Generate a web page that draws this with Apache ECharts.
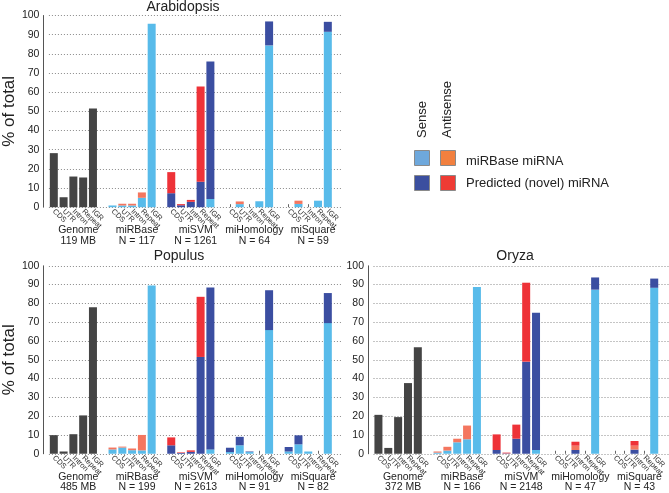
<!DOCTYPE html>
<html>
<head>
<meta charset="utf-8">
<script src="https://cdn.jsdelivr.net/npm/echarts@6/dist/echarts.min.js"></script>
<style>
  html, body { margin: 0; padding: 0; background: #fff; }
  #chart { width: 669px; height: 493px; }
</style>
</head>
<body>
<div id="chart"></div>
<script>
// regions and methods
var parts = ['CDS', 'UTR', 'Intron', 'Repeat', 'IGR'];
var methods = ['Genome', 'miRBase', 'miSVM', 'miHomology', 'miSquare'];
var yTicks = [0, 10, 20, 30, 40, 50, 60, 70, 80, 90, 100];

// Arabidopsis
var araSizes = ['119 MB', 'N = 117', 'N = 1261', 'N = 64', 'N = 59'];
var araGenome = [28.2, 5.2, 16, 15.5, 51.5];
// segments per method: miRBase, miSVM, miHomology, miSquare (5 regions each)
var araSenseKnown = [0.9, 0.9, 0.9, 4.9, 95.7,  0, 0, 0, 0, 4.3,  0, 1.6, 0, 3.1, 84.4,  0, 1.7, 0, 3.4, 91.5];
var araSenseNovel = [0, 0, 0, 0, 0,  7.3, 1.0, 2.8, 13.3, 71.7,  0, 0, 0, 0, 12.5,  0, 0, 0, 0, 5.2];
var araAntiKnown  = [0, 0.9, 0.9, 2.8, 0,  0, 0, 0, 0, 0,  0, 1.4, 0, 0, 0,  0, 1.7, 0, 0, 0];
var araAntiNovel  = [0, 0, 0, 0, 0,  11, 0.6, 1.0, 49.7, 0,  0, 0, 0, 0, 0,  0, 0, 0, 0, 0];

// Populus
var popSizes = ['485 MB', 'N = 199', 'N = 2613', 'N = 91', 'N = 82'];
var popGenome = [9.9, 1.2, 10.4, 20.4, 77.9];
var popSenseKnown = [2.3, 3.3, 1.9, 1.8, 89.5,  0, 0, 0, 0, 2.3,  0.9, 4.5, 0.9, 0, 65.8,  1.2, 5.0, 1.2, 0, 69.5];
var popSenseNovel = [0, 0, 0, 0, 0,  4.5, 0.4, 1.0, 51.5, 86.2,  2.3, 4.5, 0.3, 0, 21.2,  2.4, 4.8, 0, 0, 16];
var popAntiKnown  = [1.0, 0.5, 0.9, 8.2, 0,  0, 0, 0, 0, 0,  0, 0, 0, 0, 0,  0, 0, 0, 0, 0];
var popAntiNovel  = [0, 0, 0, 0, 0,  4.2, 0.3, 0.8, 32, 0,  0, 0, 0, 0, 0,  0, 0, 0, 0, 0];

// Oryza
var orySizes = ['372 MB', 'N = 166', 'N = 2148', 'N = 47', 'N = 43'];
var oryGenome = [20.7, 3.1, 19.5, 37.6, 56.6];
var orySenseKnown = [0.6, 1.7, 6.1, 7.7, 88.7,  0, 0, 0, 0, 2.0,  0, 0, 0, 0, 87.3,  0, 0, 0, 0, 88.3];
var orySenseNovel = [0, 0, 0, 0, 0,  2.0, 0.2, 8.0, 49, 73,  0, 0, 2.0, 0, 6.5,  0, 0, 2.2, 0, 4.9];
var oryAntiKnown  = [0.6, 2.0, 1.9, 7.3, 0,  0, 0, 0, 0, 0,  0, 0, 2.3, 0, 0,  0, 0, 2.1, 0, 0];
var oryAntiNovel  = [0, 0, 0, 0, 0,  8.3, 0.4, 7.5, 42, 0,  0, 0, 2.1, 0, 0,  0, 0, 2.5, 0, 0];

var colGenome = '#444444';
var colSenseKnown = '#58bbea';
var colSenseNovel = '#3b4ea1';
var colAntiKnown = '#f4765f';
var colAntiNovel = '#ee3238';
var font = 'Liberation Sans, Arial, sans-serif';

// 6 slots per method: 5 regions + a gap
var slots = [];
for (var g = 0; g < methods.length; g++) {
    for (var c = 0; c < 6; c++) slots.push(g + '|' + c);
}

function genomeData(arr) {
    return slots.map(function (s, i) {
        var g = Math.floor(i / 6), c = i % 6;
        return (g === 0 && c < 5) ? arr[c] : null;
    });
}
function methodData(arr) {
    return slots.map(function (s, i) {
        var g = Math.floor(i / 6), c = i % 6;
        return (g === 0 || c === 5) ? null : arr[(g - 1) * 5 + c];
    });
}
// small marker where a method found nothing
function zeroTick(a, b, c2, d) {
    return function (idx) {
        var g = Math.floor(idx / 6), c = idx % 6;
        if (g === 0 || c === 5) return false;
        var k = (g - 1) * 5 + c;
        return a[k] + b[k] + c2[k] + d[k] === 0;
    };
}

var grids = [
    { left: 42.5, top: 15.5, width: 300, height: 191.7 },
    { left: 42.5, top: 265.8, width: 300, height: 191.5 },
    { left: 373.5, top: 265.8, width: 300, height: 191.5 }
];
var panels = [
    { title: 'Arabidopsis', tx: 183, ty: 0, name: '% of total', sizes: araSizes, genome: araGenome, sk: araSenseKnown, sn: araSenseNovel, ak: araAntiKnown, an: araAntiNovel },
    { title: 'Populus', tx: 179, ty: 249, name: '% of total', sizes: popSizes, genome: popGenome, sk: popSenseKnown, sn: popSenseNovel, ak: popAntiKnown, an: popAntiNovel },
    { title: 'Oryza', tx: 515, ty: 249, name: '', sizes: orySizes, genome: oryGenome, sk: orySenseKnown, sn: orySenseNovel, ak: oryAntiKnown, an: oryAntiNovel }
];

var xAxes = [], yAxes = [], series = [], titles = [];
panels.forEach(function (p, i) {
    titles.push({
        text: p.title, left: p.tx, top: p.ty, textAlign: 'center', padding: 0,
        textStyle: { fontFamily: font, fontSize: 14, fontWeight: 'normal', color: '#222' }
    });
    xAxes.push({
        type: 'category', gridIndex: i, data: slots,
        axisLine: { show: false },
        axisTick: { show: true, inside: true, length: 3, alignWithLabel: true,
            interval: zeroTick(p.sk, p.sn, p.ak, p.an),
            lineStyle: { color: '#666', width: 1 } },
        axisLabel: {
            interval: 0, rotate: -45, margin: 3, fontSize: 7.5, fontFamily: font, color: '#333',
            formatter: function (v) { var c = +v.split('|')[1]; return parts[c] || ''; }
        },
        splitLine: { show: false }
    });
    xAxes.push({
        type: 'category', gridIndex: i, position: 'bottom', offset: 16,
        data: methods.map(function (m, k) { return m + '\n' + p.sizes[k]; }),
        axisLine: { show: false }, axisTick: { show: false },
        axisLabel: { interval: 0, margin: 2, fontSize: 10.5, lineHeight: 10.5, fontFamily: font, color: '#222' },
        splitLine: { show: false }
    });
    yAxes.push({
        type: 'value', gridIndex: i, min: yTicks[0], max: yTicks[yTicks.length - 1], interval: 10,
        offset: 5.5,
        name: p.name, nameLocation: 'middle', nameGap: 18,
        nameTextStyle: { fontFamily: font, fontSize: 17, color: '#222' },
        axisLine: { show: true, lineStyle: { color: '#555', width: 1 } },
        axisTick: { show: false },
        axisLabel: { margin: 4, fontSize: 10.5, fontFamily: font, color: '#222' },
        splitLine: { show: true, lineStyle: { color: '#8a8a8a', type: [1, 2], width: 1 } }
    });
    var xi = i * 2;
    var common = { type: 'bar', stack: 'p' + i, xAxisIndex: xi, yAxisIndex: i, barWidth: 8, silent: true };
    series.push(Object.assign({ name: 'Genome', data: genomeData(p.genome), itemStyle: { color: colGenome } }, common));
    series.push(Object.assign({ name: 'Sense miRBase', data: methodData(p.sk), itemStyle: { color: colSenseKnown } }, common));
    series.push(Object.assign({ name: 'Sense predicted', data: methodData(p.sn), itemStyle: { color: colSenseNovel } }, common));
    series.push(Object.assign({ name: 'Antisense miRBase', data: methodData(p.ak), itemStyle: { color: colAntiKnown } }, common));
    series.push(Object.assign({ name: 'Antisense predicted', data: methodData(p.an), itemStyle: { color: colAntiNovel } }, common));
});

// legend laid out as a small matrix: sense / antisense columns
var legendText = { fontFamily: font, fontSize: 13, fill: '#222' };
var graphic = [
    { type: 'text', x: 422, y: 138, rotation: Math.PI / 2,
      style: Object.assign({ text: 'Sense', align: 'left', verticalAlign: 'middle' }, legendText) },
    { type: 'text', x: 447, y: 138, rotation: Math.PI / 2,
      style: Object.assign({ text: 'Antisense', align: 'left', verticalAlign: 'middle' }, legendText) },
    { type: 'rect', shape: { x: 414.5, y: 150.5, width: 15, height: 15 }, style: { fill: '#6ea8dc', stroke: '#8a8a8a', lineWidth: 1 } },
    { type: 'rect', shape: { x: 440.5, y: 150.5, width: 15, height: 15 }, style: { fill: '#f2803f', stroke: '#8a8a8a', lineWidth: 1 } },
    { type: 'rect', shape: { x: 414.5, y: 175.5, width: 15, height: 15 }, style: { fill: '#3b4f9f', stroke: '#8a8a8a', lineWidth: 1 } },
    { type: 'rect', shape: { x: 440.5, y: 175.5, width: 15, height: 15 }, style: { fill: '#ee3b34', stroke: '#8a8a8a', lineWidth: 1 } },
    { type: 'text', x: 466, y: 161, style: Object.assign({ text: 'miRBase miRNA', align: 'left', verticalAlign: 'middle' }, legendText) },
    { type: 'text', x: 466, y: 183, style: Object.assign({ text: 'Predicted (novel) miRNA', align: 'left', verticalAlign: 'middle' }, legendText) }
];

var chart = echarts.init(document.getElementById('chart'), null, { renderer: 'canvas' });
chart.setOption({
    animation: false,
    backgroundColor: '#fff',
    title: titles,
    grid: grids,
    xAxis: xAxes,
    yAxis: yAxes,
    series: series,
    graphic: graphic
});
</script>
</body>
</html>
